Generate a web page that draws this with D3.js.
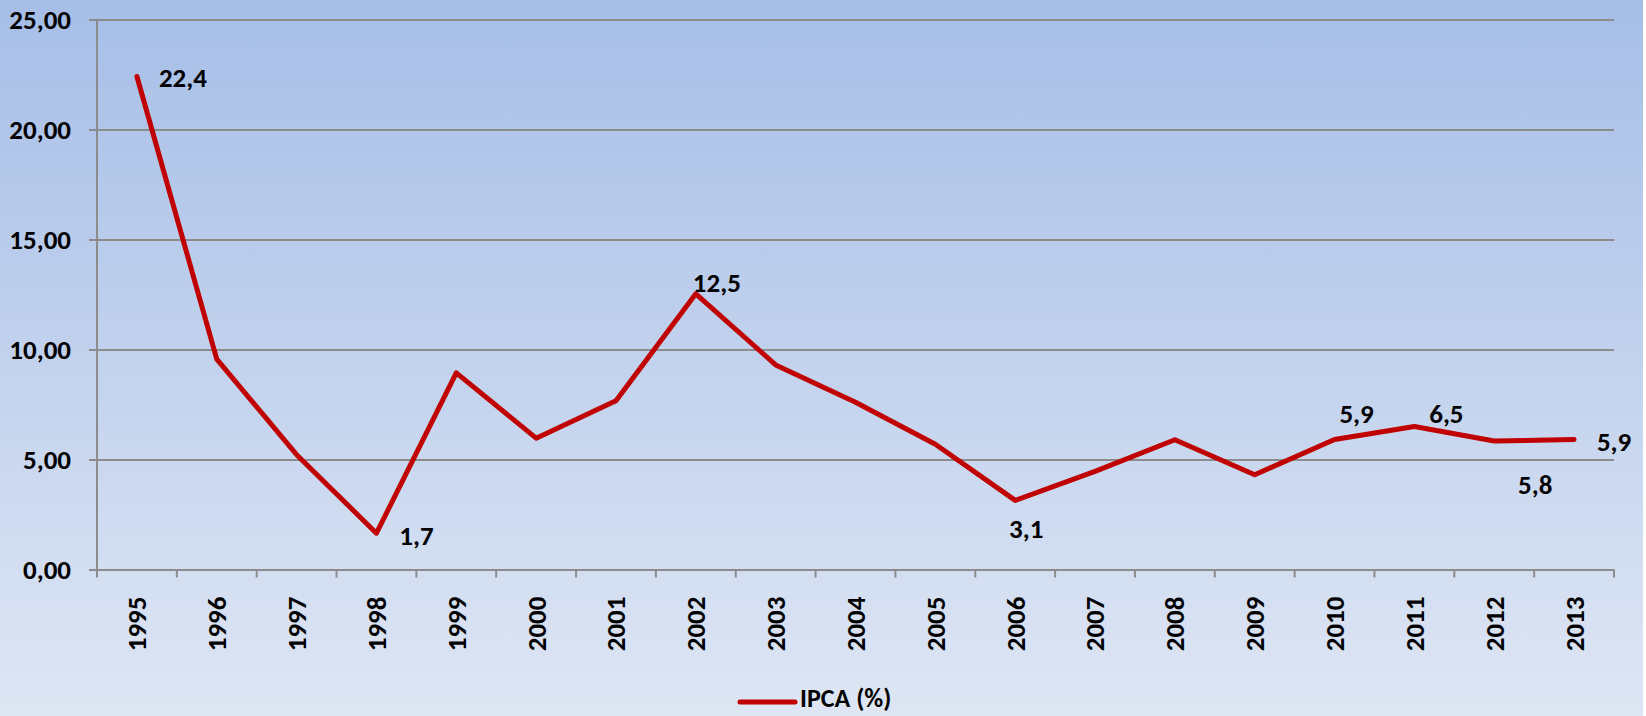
<!DOCTYPE html>
<html>
<head>
<meta charset="utf-8">
<script src="https://cdn.jsdelivr.net/npm/d3@7"></script>
<style>
  html, body { margin: 0; padding: 0; background: #fff; }
  svg { display: block; }
  text { font-family: Carlito, Calibri, Lato, sans-serif; font-weight: bold; fill: #000; }
</style>
</head>
<body>
<div class="line-chart"></div>
<script>
var YEARS = ['1995', '1996', '1997', '1998', '1999', '2000', '2001', '2002', '2003', '2004',
             '2005', '2006', '2007', '2008', '2009', '2010', '2011', '2012', '2013'];

var IPCA = [22.41, 9.56, 5.22, 1.65, 8.94, 5.97, 7.67, 12.53, 9.30, 7.60,
            5.69, 3.14, 4.46, 5.90, 4.31, 5.91, 6.50, 5.84, 5.91];

var Y_TICKS = [0, 5, 10, 15, 20, 25];

var SERIES_NAME = 'IPCA (%)';

// years that get a value label
var LABELED = ['1995', '1998', '2002', '2006', '2010', '2011', '2012', '2013'];

var DEFAULTS = {
    graph_width: 1646,
    graph_height: 716,
    font_size: 27,
    tick_size: 8
};

// where each label sits relative to its point (center of text)
var LABEL_OFFSET = {
    '1995': [46, 1],
    '1998': [40, 2],
    '2002': [21, -11],
    '2006': [11, 28],
    '2010': [22, -26],
    '2011': [32, -13],
    '2012': [41, 44],
    '2013': [40, 2]
};

var margin = {top: 19.5, right: 32, bottom: 146.5, left: 97},
    width = DEFAULTS.graph_width - margin.left - margin.right,
    height = DEFAULTS.graph_height - margin.top - margin.bottom;

var data = YEARS.map(function (y, i) { return {year: y, value: IPCA[i]}; });

var root = d3.select('.line-chart').append('svg')
    .attr('width', DEFAULTS.graph_width)
    .attr('height', DEFAULTS.graph_height);

var grad = root.append('defs').append('linearGradient')
    .attr('id', 'bg')
    .attr('x1', 0).attr('y1', 0).attr('x2', 0).attr('y2', 1);
grad.append('stop').attr('offset', '0%').attr('stop-color', '#a6bee7');
grad.append('stop').attr('offset', '100%').attr('stop-color', '#dee6f4');

root.append('rect')
    .attr('width', DEFAULTS.graph_width - 3)
    .attr('height', DEFAULTS.graph_height)
    .attr('fill', 'url(#bg)');

var svg = root.append('g')
    .attr('transform', 'translate(' + margin.left + ',' + margin.top + ')');

var x = d3.scaleBand().domain(YEARS).range([0, width]);
var y = d3.scaleLinear().domain([0, 25]).range([height, 0]);

function fmt(v) {
    return (Math.round(v * 10 + 1e-6) / 10).toFixed(1).replace('.', ',');
}

// grid + y axis
var yAxis = d3.axisLeft(y)
    .tickValues(Y_TICKS)
    .tickSize(-width - DEFAULTS.tick_size)
    .tickFormat(function (d) { return d.toFixed(2).replace('.', ','); });

var yg = svg.append('g')
    .attr('class', 'y axis')
    .attr('transform', 'translate(' + (-DEFAULTS.tick_size) + ',0)')
    .call(yAxis);
yg.select('.domain').remove();
yg.selectAll('line')
    .attr('x1', 0)
    .attr('x2', width + DEFAULTS.tick_size)
    .attr('stroke', '#8c8c8c')
    .attr('stroke-width', 2);
yg.selectAll('text')
    .attr('x', -18)
    .style('font-size', DEFAULTS.font_size + 'px');

// vertical axis line
svg.append('line')
    .attr('x1', 0).attr('x2', 0)
    .attr('y1', 0).attr('y2', height + DEFAULTS.tick_size)
    .attr('stroke', '#8c8c8c')
    .attr('stroke-width', 2);

// category boundary ticks
svg.selectAll('.xtick')
    .data(YEARS.slice(1).concat(['end']))
    .enter().append('line')
    .attr('class', 'xtick')
    .attr('x1', function (d, i) { return (i + 1) * x.step(); })
    .attr('x2', function (d, i) { return (i + 1) * x.step(); })
    .attr('y1', height)
    .attr('y2', height + DEFAULTS.tick_size)
    .attr('stroke', '#8c8c8c')
    .attr('stroke-width', 2);

// year labels, rotated
svg.selectAll('.xlabel')
    .data(YEARS)
    .enter().append('text')
    .attr('class', 'xlabel')
    .attr('transform', function (d) {
        return 'translate(' + (x(d) + x.bandwidth() / 2) + ',' + (height + 27) + ') rotate(-90)';
    })
    .attr('dy', '0.35em')
    .style('text-anchor', 'end')
    .style('font-size', DEFAULTS.font_size + 'px')
    .text(function (d) { return d; });

var line = d3.line()
    .x(function (d) { return x(d.year) + x.bandwidth() / 2; })
    .y(function (d) { return y(d.value); });

svg.append('path')
    .datum(data)
    .attr('d', line)
    .attr('fill', 'none')
    .attr('stroke', '#c00000')
    .attr('stroke-width', 5)
    .attr('stroke-linejoin', 'round')
    .attr('stroke-linecap', 'round');

svg.selectAll('.vlabel')
    .data(data.filter(function (d) { return LABELED.indexOf(d.year) >= 0; }))
    .enter().append('text')
    .attr('class', 'vlabel')
    .attr('x', function (d) { return x(d.year) + x.bandwidth() / 2 + LABEL_OFFSET[d.year][0]; })
    .attr('y', function (d) { return y(d.value) + LABEL_OFFSET[d.year][1]; })
    .attr('dy', '0.35em')
    .style('text-anchor', 'middle')
    .style('font-size', DEFAULTS.font_size + 'px')
    .text(function (d) { return fmt(d.value); });

// legend
var legend = root.append('g')
    .attr('transform', 'translate(740,702)');
legend.append('line')
    .attr('x1', 0).attr('x2', 55)
    .attr('stroke', '#c00000')
    .attr('stroke-width', 5)
    .attr('stroke-linecap', 'round');
legend.append('text')
    .attr('x', 60)
    .attr('y', -4)
    .attr('dy', '0.35em')
    .style('font-size', '26px')
    .text(SERIES_NAME);
</script>
</body>
</html>
